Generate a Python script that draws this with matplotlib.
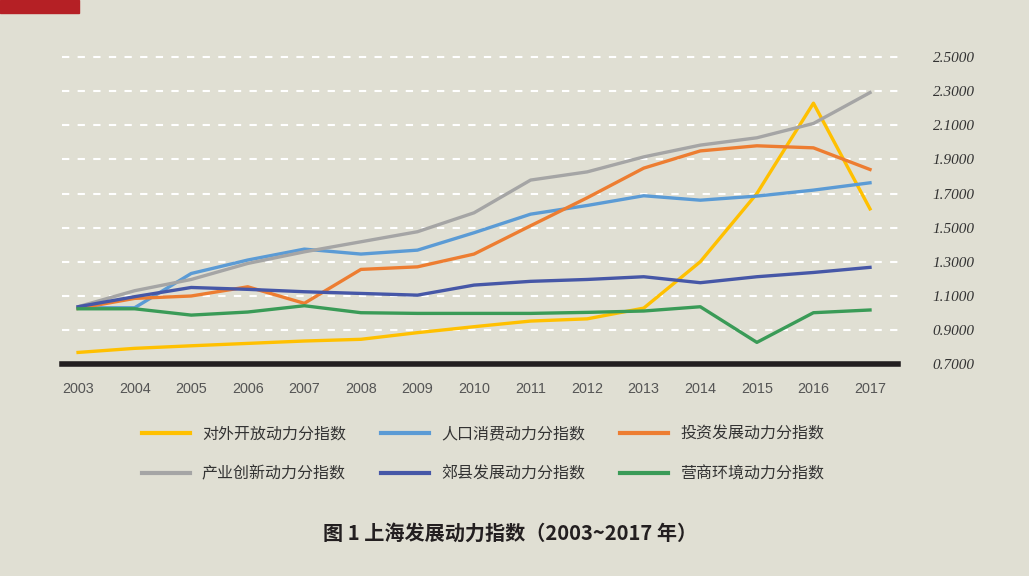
import numpy as np
import matplotlib
matplotlib.use('Agg')
import matplotlib.pyplot as plt
from matplotlib.patches import Rectangle

plt.rcParams['font.family'] = ['Noto Sans CJK SC', 'DejaVu Sans']

years = list(range(2003, 2018))

# index values
open_idx   = [0.768, 0.792, 0.807, 0.821, 0.835, 0.845, 0.884, 0.919, 0.952, 0.965, 1.028, 1.300, 1.700, 2.230, 1.610]
people_idx = [1.030, 1.030, 1.231, 1.310, 1.374, 1.345, 1.368, 1.470, 1.579, 1.630, 1.687, 1.661, 1.685, 1.720, 1.763]
invest_idx = [1.026, 1.085, 1.099, 1.153, 1.056, 1.255, 1.270, 1.345, 1.511, 1.675, 1.849, 1.950, 1.980, 1.968, 1.841]
innov_idx  = [1.036, 1.130, 1.196, 1.290, 1.358, 1.417, 1.476, 1.587, 1.779, 1.827, 1.915, 1.984, 2.027, 2.111, 2.292]
suburb_idx = [1.036, 1.095, 1.149, 1.138, 1.124, 1.114, 1.104, 1.163, 1.185, 1.196, 1.212, 1.177, 1.212, 1.237, 1.267]
biz_idx    = [1.024, 1.024, 0.987, 1.005, 1.042, 1.001, 0.997, 0.997, 0.997, 1.003, 1.011, 1.036, 0.827, 1.001, 1.017]

names = ['对外开放动力分指数', '人口消费动力分指数', '投资发展动力分指数',
         '产业创新动力分指数', '郊县发展动力分指数', '营商环境动力分指数']
colors = ['#FFC000', '#5B9BD5', '#ED7D31', '#A5A5A5', '#4657A7', '#3A9B57']
series = [open_idx, people_idx, invest_idx, innov_idx, suburb_idx, biz_idx]

yticks = [0.7, 0.9, 1.1, 1.3, 1.5, 1.7, 1.9, 2.1, 2.3, 2.5]

bg = '#E0DFD3'
fig = plt.figure(figsize=(10.29, 5.76), dpi=100, facecolor=bg)
ax = fig.add_axes([0.0603, 0.368, 0.8124, 0.5476], facecolor=bg)

lines = []
for vals, c, n in zip(series, colors, names):
    l, = ax.plot(years, vals, color=c, lw=2.4, label=n, zorder=3)
    lines.append(l)

ax.set_xlim(2002.717, 2017.495)
ax.set_ylim(0.7, 2.55)
ax.set_yticks(yticks)
ax.set_yticklabels(['%.4f' % v for v in yticks], family='Liberation Serif',
                   style='italic', fontsize=11, color='#333333')
ax.yaxis.tick_right()
ax.tick_params(axis='y', length=0, pad=25)
ax.set_xticks(years)
ax.set_xticklabels([str(y) for y in years], family='Liberation Sans',
                   fontsize=10.4, color='#555555')
ax.tick_params(axis='x', length=0, pad=13)

ax.grid(axis='y', color='white', lw=1.5, linestyle=(0, (3.5, 4)), zorder=1)
for s in ['top', 'left', 'right']:
    ax.spines[s].set_visible(False)
ax.spines['bottom'].set_color('#231F20')
ax.spines['bottom'].set_linewidth(4)
ax.spines['bottom'].set_zorder(4)

# legend is filled column by column, so reorder for row-wise layout
order = [0, 3, 1, 4, 2, 5]
fig.legend(handles=[lines[i] for i in order], loc='center',
           bbox_to_anchor=(483 / 1029, 1 - 454 / 576),
           ncol=3, frameon=False, fontsize=11.5, handlelength=3.0,
           handletextpad=0.75, columnspacing=2.2, labelspacing=1.4,
           labelcolor='#333333')
for l in fig.legends[0].get_lines():
    l.set_linewidth(3)

fig.text(510 / 1029, 1 - 533 / 576, '图 1 上海发展动力指数（2003~2017 年）',
         ha='center', va='center', fontsize=14.5, fontweight='bold', color='#231F20')

fig.patches.append(Rectangle((0, 1 - 13 / 576), 79 / 1029, 13 / 576,
                             transform=fig.transFigure, color='#B52025', zorder=0))

fig.savefig('out.png', dpi=100, facecolor=bg)
